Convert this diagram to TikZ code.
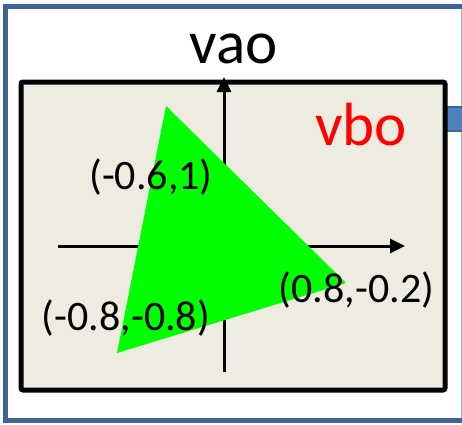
\documentclass[tikz,border=0pt]{standalone}
\usepackage{fontspec}
\setmainfont{Carlito}
\usetikzlibrary{arrows.meta}

\definecolor{framblue}{HTML}{3F6495}
\definecolor{portblue}{HTML}{4F81BD}
\definecolor{paper}{HTML}{EEECE1}

\tikzset{
  coordlabel/.style={anchor=base, inner sep=0pt, font=\fontsize{42}{42}\selectfont},
  biglabel/.style={anchor=base, inner sep=0pt, font=\fontsize{61}{61}\selectfont},
  axis/.style={line width=3pt, -{Triangle[length=15pt,width=14pt]}}
}

\begin{document}
\begin{tikzpicture}[x=1pt,y=-1pt]
  \useasboundingbox (0,0) rectangle (462,424);
  \clip (0,0) rectangle (462,424);

  % Outer frame
  \draw[framblue, line width=5pt] (5.5,6.5) rectangle (470,420.5);
  \draw[framblue!50, line width=1pt] (461,9) -- (461,418);

  % Port on the right
  \draw[framblue, fill=portblue, line width=2pt] (440,107) rectangle (470,131);

  % Buffer box
  \draw[line width=5pt, rounded corners=2pt, fill=paper] (21,82) rectangle (445,390);

  % Axes
  \coordinate (xstart) at (58,246);
  \coordinate (xend) at (405,246);
  \coordinate (ystart) at (224,372);
  \coordinate (yend) at (224,77);
  \draw[axis] (xstart) -- (xend);
  \draw[axis] (ystart) -- (yend);

  % Triangle
  \coordinate (top) at (166,106);
  \coordinate (right) at (346,283);
  \coordinate (left) at (117,353);
  \fill[green] (top) -- (right) -- (left) -- cycle;

  % Labels
  \node[biglabel] (vao) at (234,63) {vao};
  \node[biglabel, red] (vbo) at (361,145) {vbo};
  \node[coordlabel] (ltop) at (151,189) {(-0.6,1)};
  \node[coordlabel] (lright) at (356.5,302) {(0.8,-0.2)};
  \node[coordlabel] (lleft) at (126,330) {(-0.8,-0.8)};

\end{tikzpicture}
\end{document}
